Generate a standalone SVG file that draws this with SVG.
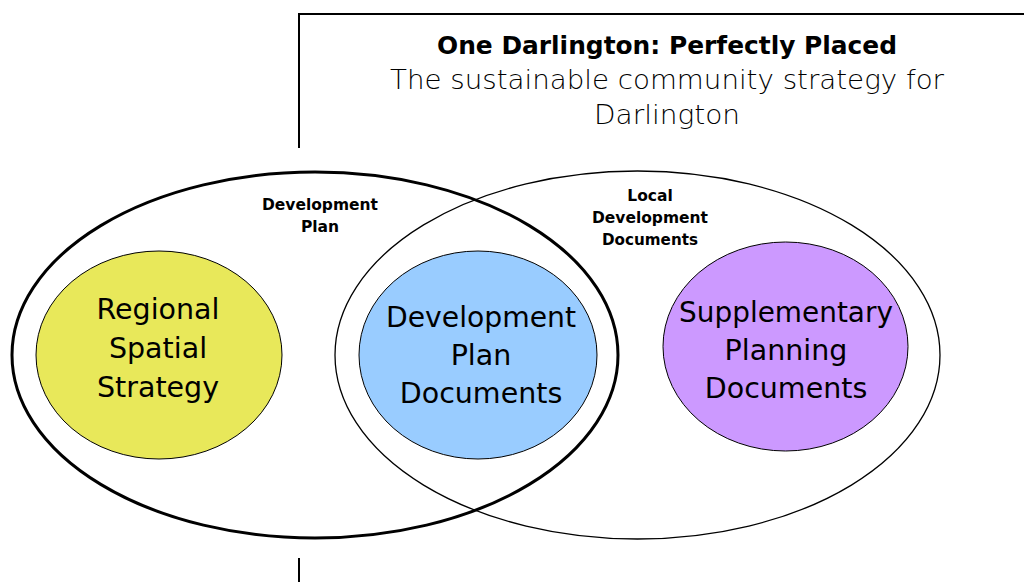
<svg xmlns="http://www.w3.org/2000/svg" width="1024" height="582" viewBox="0 0 1024 582">
<style>
.frame{stroke:#000;stroke-width:2;fill:none}
.big{fill:none;stroke:#000}
.inner{stroke:#000;stroke-width:1}
.lbl{font-family:"DejaVu Sans",Verdana,sans-serif;font-size:28.5px;fill:#000;text-anchor:middle}
.sm{font-family:"DejaVu Sans",Verdana,sans-serif;font-size:15.5px;font-weight:bold;fill:#000;text-anchor:middle}
.title{font-family:"DejaVu Sans","Liberation Sans",sans-serif;fill:#000;text-anchor:middle}
</style>
<rect width="1024" height="582" fill="#fff"/>
<g id="frame">
<line class="frame" x1="299" y1="14" x2="1024" y2="14"/>
<line class="frame" x1="299" y1="13" x2="299" y2="148"/>
<line class="frame" x1="299" y1="558" x2="299" y2="582"/>
</g>
<g id="title">
<text class="title" x="667" y="54" font-size="24" font-weight="bold" textLength="460" lengthAdjust="spacingAndGlyphs">One Darlington: Perfectly Placed</text>
<text class="title" x="667" y="89" font-size="26" font-weight="300" textLength="554" lengthAdjust="spacingAndGlyphs">The sustainable community strategy for</text>
<text class="title" x="667" y="124" font-size="26" font-weight="300" textLength="146" lengthAdjust="spacingAndGlyphs">Darlington</text>
</g>
<g id="development-plan">
<ellipse class="big" cx="315" cy="355" rx="303" ry="183" stroke-width="3"/>
<text class="sm" x="320" y="210" textLength="116" lengthAdjust="spacingAndGlyphs">Development</text>
<text class="sm" x="320" y="232">Plan</text>
</g>
<g id="local-development-documents">
<ellipse class="big" cx="637.5" cy="355" rx="302.5" ry="184" stroke-width="1.3"/>
<text class="sm" x="650" y="201">Local</text>
<text class="sm" x="650" y="223" textLength="116" lengthAdjust="spacingAndGlyphs">Development</text>
<text class="sm" x="650" y="245" textLength="96" lengthAdjust="spacingAndGlyphs">Documents</text>
</g>
<g id="regional-spatial-strategy">
<ellipse class="inner" cx="159" cy="355" rx="123" ry="104" fill="#E8E85A"/>
<text class="lbl" x="158" y="319">Regional</text>
<text class="lbl" x="158" y="358">Spatial</text>
<text class="lbl" x="158" y="397">Strategy</text>
</g>
<g id="development-plan-documents">
<ellipse class="inner" cx="478" cy="355" rx="119" ry="104" fill="#99CCFF"/>
<text class="lbl" x="481" y="327" textLength="190" lengthAdjust="spacingAndGlyphs">Development</text>
<text class="lbl" x="481" y="365">Plan</text>
<text class="lbl" x="481" y="403">Documents</text>
</g>
<g id="supplementary-planning-documents">
<ellipse class="inner" cx="785.5" cy="346.5" rx="122.5" ry="104.5" fill="#CC99FF"/>
<text class="lbl" x="786" y="322" textLength="214" lengthAdjust="spacingAndGlyphs">Supplementary</text>
<text class="lbl" x="786" y="360">Planning</text>
<text class="lbl" x="786" y="398">Documents</text>
</g>
<g id="connectors"/>
</svg>
